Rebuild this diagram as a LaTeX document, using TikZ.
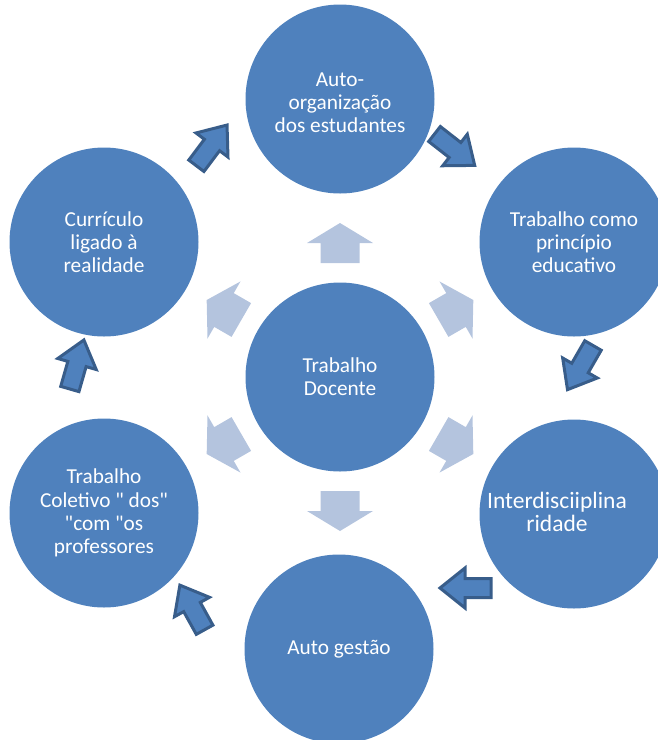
\documentclass[tikz,border=0pt]{standalone}
\usepackage{fontspec}
\setmainfont{Carlito}[Ligatures=TeXOff]
\definecolor{circblue}{RGB}{79,129,189}
\definecolor{arrowedge}{RGB}{56,93,138}
\definecolor{lightarrow}{RGB}{180,196,222}
\tikzset{
  bubble/.style={circle, fill=circblue, minimum size=189pt, inner sep=0pt},
  bubbletext/.style={text=white, align=center, font=\fontsize{21.3}{23.2}\selectfont},
  outerstyle/.style={fill=circblue, draw=arrowedge, line width=3pt, line join=miter},
  innerstyle/.style={fill=lightarrow},
  outarrow/.pic={\path[outerstyle] (-26,-9.5) -- (0,-9.5) -- (0,-20) -- (25,0) -- (0,20) -- (0,9.5) -- (-26,9.5) -- cycle;},
  inarrow/.pic={\path[innerstyle] (-20,-19.5) -- (0,-19.5) -- (0,-33) -- (20,0) -- (0,33) -- (0,19.5) -- (-20,19.5) -- cycle;}
}
\begin{document}
\begin{tikzpicture}[x=1pt,y=-1pt]
\useasboundingbox (0,0) rectangle (658,740);
\clip (0,0) rectangle (658,740);
% circles
\node[bubble, bubbletext] (center) at (340,377) {Trabalho\\Docente};
\node[bubble] (top) at (340,99) {};
\node[bubbletext] (toptext) at (340,103) {Auto-\\organização\\dos estudantes};
\node[bubble, bubbletext] (ur) at (574,242) {Trabalho como\\princípio\\educativo};
\node[bubble] (lr) at (574,514) {};
\node[bubbletext, font=\fontsize{23.5}{23.5}\selectfont] (lrtext) at (557,512) {Interdisciiplina\\ridade};
\node[bubble, bubbletext] (bot) at (339,649) {Auto gestão};
\node[bubble, bubbletext] (ll) at (104,513) {Trabalho\\Coletivo " dos"\\"com "os\\professores};
\node[bubble, bubbletext] (ul) at (104,242) {Currículo\\ligado à\\realidade};
% inner arrows (outward from the centre)
\pic[rotate=90] at (340,243) {inarrow};
\pic[rotate=30] at (456,310) {inarrow};
\pic[rotate=-30] at (456,444) {inarrow};
\pic[rotate=-90] at (340,511) {inarrow};
\pic[rotate=-150] at (224,444) {inarrow};
\pic[rotate=150] at (224,310) {inarrow};
% outer cycle arrows
\pic[rotate=-38] at (455,150) {outarrow};
\pic[rotate=-120] at (580,368) {outarrow};
\pic[rotate=180] at (465,588) {outarrow};
\pic[rotate=119] at (192,607) {outarrow};
\pic[rotate=74] at (77,364) {outarrow};
\pic[rotate=53] at (212,145) {outarrow};
\end{tikzpicture}
\end{document}
